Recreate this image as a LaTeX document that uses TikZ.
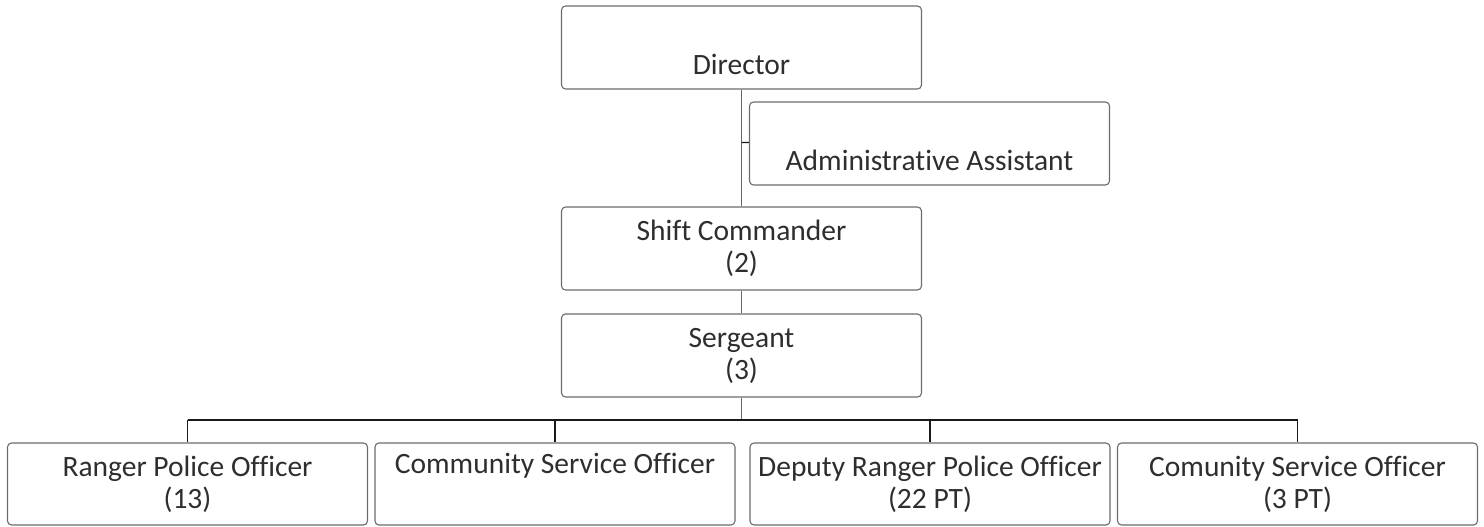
\documentclass[tikz,border=0pt]{standalone}
\usepackage{fontspec}
\setmainfont{Carlito}[Ligatures={NoCommon}]
\usepackage{tikz}

\begin{document}
\begin{tikzpicture}[x=1pt,y=-1pt]
\tikzset{box/.style={draw=gray!85!black,line width=1.1pt,rounded corners=4pt,
    minimum width=360pt,minimum height=83pt,align=center,inner sep=0pt,
    font=\fontsize{29.5}{32}\selectfont,text=black!82},
  link/.style={draw=black!60,line width=1.8pt},
  bus/.style={draw=black!90,line width=1.1pt}}
\useasboundingbox (0,0) rectangle (1484,527);

\node[box] (dir) at (741.5,47.5) {\strut\\Director};
\node[box] (admin) at (929.5,143.5) {\strut\\Administrative Assistant};
\node[box] (shift) at (741.5,248.5) {Shift Commander\\(2)};
\node[box] (sgt) at (741.5,355.5) {Sergeant\\(3)};

\node[box,minimum height=82pt] (rpo) at (187.5,484) {Ranger Police Officer\\(13)};
\node[box,minimum height=82pt] (cso) at (555,484) {Community Service Officer\\\strut};
\node[box,minimum height=82pt] (drpo) at (930,484) {Deputy Ranger Police Officer\\(22 PT)};
\node[box,minimum height=82pt] (cso2) at (1297.5,484) {Comunity Service Officer\\(3 PT)};

\coordinate (aa) at (741.5,142.5);
\coordinate (split) at (741.5,420);

\draw[link] (dir) -- (shift);
\draw[bus] (aa) -- (admin);
\draw[link] (shift) -- (sgt);
\draw[link] (sgt) -- (split);
\draw[bus] (split -| rpo.north) -- (split -| cso2.north);
\draw[bus] (split -| rpo.north) -- (rpo);
\draw[bus] (split -| cso.north) -- (cso);
\draw[bus] (split -| drpo.north) -- (drpo);
\draw[bus] (split -| cso2.north) -- (cso2);

\end{tikzpicture}
\end{document}
